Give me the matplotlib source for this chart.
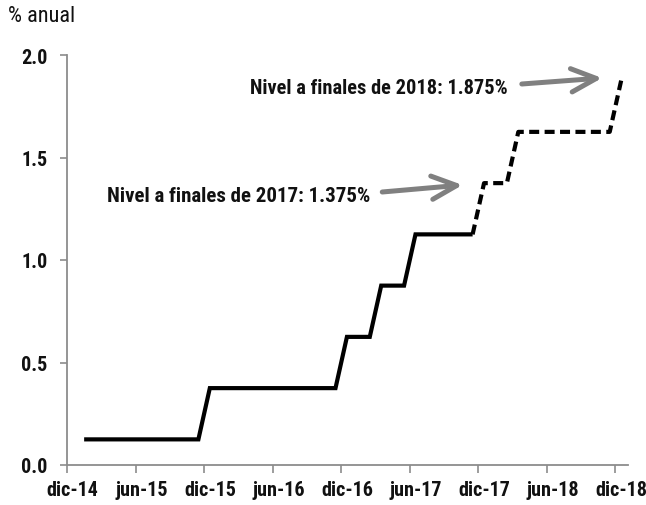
import matplotlib
matplotlib.use("Agg")
import matplotlib.pyplot as plt
from matplotlib import font_manager

def pick(candidates, weight):
    for name in candidates:
        for f in font_manager.fontManager.ttflist:
            if f.name == name and f.weight == weight and '[' not in f.fname and 'Italic' not in f.fname:
                return name
    return None

NARROW = ['Arial Narrow', 'Liberation Sans Narrow', 'Roboto Condensed', 'PT Sans Narrow',
          'Barlow Semi Condensed', 'Asap Condensed']
FB = pick(NARROW, 700) or 'Liberation Sans'
FR = pick(NARROW, 400) or 'Liberation Sans'

# Data (monthly, dic-14 = index 0)
months_solid = list(range(1, 36))          # ene-15 .. nov-17
values_solid = [0.125]*11 + [0.375]*12 + [0.625]*3 + [0.875]*3 + [1.125]*6
months_dash = list(range(35, 49))          # nov-17 .. dic-18
values_dash = [1.125] + [1.375]*3 + [1.625]*9 + [1.875]
tick_labels = ["dic-14", "jun-15", "dic-15", "jun-16", "dic-16",
               "jun-17", "dic-17", "jun-18", "dic-18"]
yticks = [0.0, 0.5, 1.0, 1.5, 2.0]
note_2017 = "Nivel a finales de 2017: 1.375%"
note_2018 = "Nivel a finales de 2018: 1.875%"

fig = plt.figure(figsize=(6.46, 5.06), dpi=100)
ax = fig.add_axes([67/646, 1-466/506, (628-67)/646, (466-56)/506])

xs = [m + 0.5 for m in months_solid]
xd = [m + 0.5 for m in months_dash]
ax.plot(xs, values_solid, color='black', lw=3.0, solid_joinstyle='miter', solid_capstyle='butt')
ax.plot(xd, values_dash, color='black', lw=3.0, dashes=(2.4, 1.3), dash_capstyle='butt')

ax.set_xlim(0, 49.1)
ax.set_ylim(0, 2.0)
ax.set_xticks([i*6 for i in range(len(tick_labels))])
ax.set_xticklabels([])
ax.set_xticks([i*6 + 0.5 for i in range(len(tick_labels))], minor=True)
ax.set_xticklabels(tick_labels, minor=True, fontweight='bold', fontsize=14.5, color='#111111', family=[FB, 'Liberation Sans'])
ax.tick_params(axis='x', which='minor', length=0, pad=11)
ax.tick_params(axis='x', which='major', length=6, width=1.2, color='#8c8c8c', direction='out')
ax.set_yticks(yticks)
ax.set_yticklabels([f"{v:.1f}" for v in yticks], fontweight='bold', fontsize=14.5, color='#111111', family=[FB, 'Liberation Sans'])
ax.tick_params(axis='y', length=5, width=1.2, color='#8c8c8c', direction='out', pad=9)

for s in ['top', 'right']:
    ax.spines[s].set_visible(False)
for s in ['left', 'bottom']:
    ax.spines[s].set_color('#8c8c8c')
    ax.spines[s].set_linewidth(1.3)

fig.text(8/646, 1-22/506, "% anual", fontsize=16, ha='left', va='baseline', color='#111111', family=[FR, 'Liberation Sans'])

def px(xp, yp):
    return ((xp-69)/11.38, (466-yp)/205)

arrow = dict(arrowstyle='->,head_length=0.9,head_width=0.42', color='#808080', lw=3.6,
             mutation_scale=20, shrinkA=0, shrinkB=0)
ax.annotate("", xy=px(463, 186), xytext=px(383, 193), arrowprops=arrow)
ax.annotate("", xy=px(602, 79), xytext=px(522, 85), arrowprops=arrow)

tx, ty = px(371, 197)
ax.text(tx, ty, note_2017, ha='right', va='center', fontweight='bold', fontsize=15, color='#111111', family=[FB, 'Liberation Sans'])
tx, ty = px(508, 88)
ax.text(tx, ty, note_2018, ha='right', va='center', fontweight='bold', fontsize=14.7, color='#111111', family=[FB, 'Liberation Sans'])

fig.savefig("out.png", dpi=100)
